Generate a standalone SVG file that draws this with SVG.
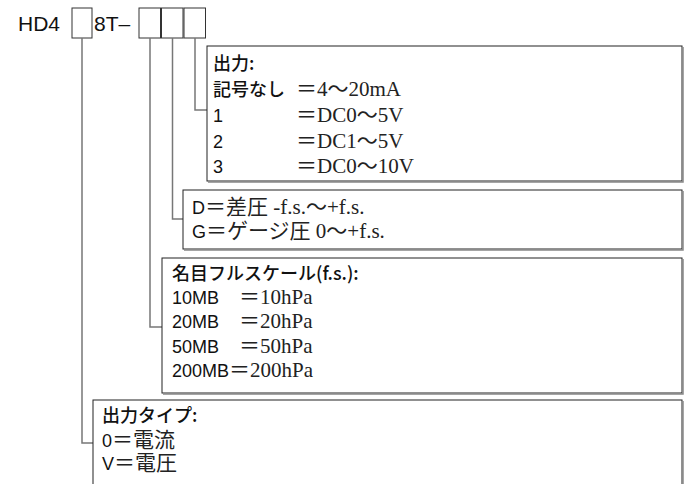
<svg xmlns="http://www.w3.org/2000/svg" width="689" height="484" viewBox="0 0 689 484">
<style>
.bg{fill:#fff}
.bx{fill:#fff;stroke:#222;stroke-width:1}
.sh{fill:none;stroke:#888;stroke-width:1.5}
.sq{fill:#fff;stroke:#333;stroke-width:1}
.ln{fill:none;stroke:#777;stroke-width:1.5}
.s{font-family:"Liberation Sans","Noto Sans CJK JP",sans-serif;font-size:18px;fill:#111}
.j{font-family:"Noto Sans CJK JP",sans-serif;font-weight:500}
.v{font-family:"Liberation Serif","Noto Sans CJK JP",serif;font-size:21px;fill:#222;font-weight:normal}
.h{font-family:"Liberation Sans",sans-serif;font-size:21px;fill:#111}
</style>
<rect class="bg" x="0" y="0" width="689" height="484"/>
<g id="header">
<text class="h" x="18" y="31">HD4</text>
<rect class="sq" x="72" y="8" width="20" height="30"/>
<text class="h" x="94" y="31">8T–</text>
<rect class="sq" x="139" y="8" width="21.5" height="30"/>
<rect class="sq" x="161.5" y="8" width="21.5" height="30"/>
<rect class="sq" x="184" y="8" width="21.5" height="30"/>
</g>
<g id="connectors">
<polyline class="ln" points="82,38 82,443 93,443"/>
<polyline class="ln" points="150,38 150,327 162,327"/>
<polyline class="ln" points="172.5,38 172.5,219 183,219"/>
<polyline class="ln" points="195,38 195,110 207,110"/>
</g>
<g id="output">
<rect class="bx" x="207" y="46" width="475" height="135"/>
<polyline class="sh" points="683,47 683,182 208,182"/>
<text class="s j" x="213" y="70">出力:</text>
<text class="s j" x="213" y="96">記号なし</text>
<text class="s" x="213" y="122">1</text>
<text class="s" x="213" y="147.5">2</text>
<text class="s" x="213" y="173">3</text>
<text class="v" x="296" y="96">＝4〜20mA</text>
<text class="v" x="296" y="122">＝DC0〜5V</text>
<text class="v" x="296" y="147.5">＝DC1〜5V</text>
<text class="v" x="296" y="173">＝DC0〜10V</text>
</g>
<g id="pressure-type">
<rect class="bx" x="183" y="190" width="499" height="59"/>
<polyline class="sh" points="683,191 683,250 184,250"/>
<text class="s" x="192" y="213.5">D<tspan class="v">＝差圧 -f.s.〜+f.s.</tspan></text>
<text class="s" x="192" y="238">G<tspan class="v">＝ゲージ圧 0〜+f.s.</tspan></text>
</g>
<g id="fullscale">
<rect class="bx" x="162" y="258" width="520" height="135"/>
<polyline class="sh" points="683,259 683,394 163,394"/>
<text class="s j" x="172" y="280">名目フルスケール(f.s.):</text>
<text class="s" x="172" y="304">10MB</text>
<text class="s" x="172" y="328">20MB</text>
<text class="s" x="172" y="352.5">50MB</text>
<text class="s" x="172" y="377">200MB</text>
<text class="v" x="239" y="304">＝10hPa</text>
<text class="v" x="239" y="328">＝20hPa</text>
<text class="v" x="239" y="352.5">＝50hPa</text>
<text class="v" x="229" y="377">＝200hPa</text>
</g>
<g id="output-type">
<rect class="bx" x="93" y="400" width="589" height="90"/>
<polyline class="sh" points="683,401 683,490"/>
<text class="s j" x="102" y="422">出力タイプ:</text>
<text class="s" x="102" y="446.5">0<tspan class="v">＝電流</tspan></text>
<text class="s" x="102" y="470">V<tspan class="v">＝電圧</tspan></text>
</g>
</svg>
